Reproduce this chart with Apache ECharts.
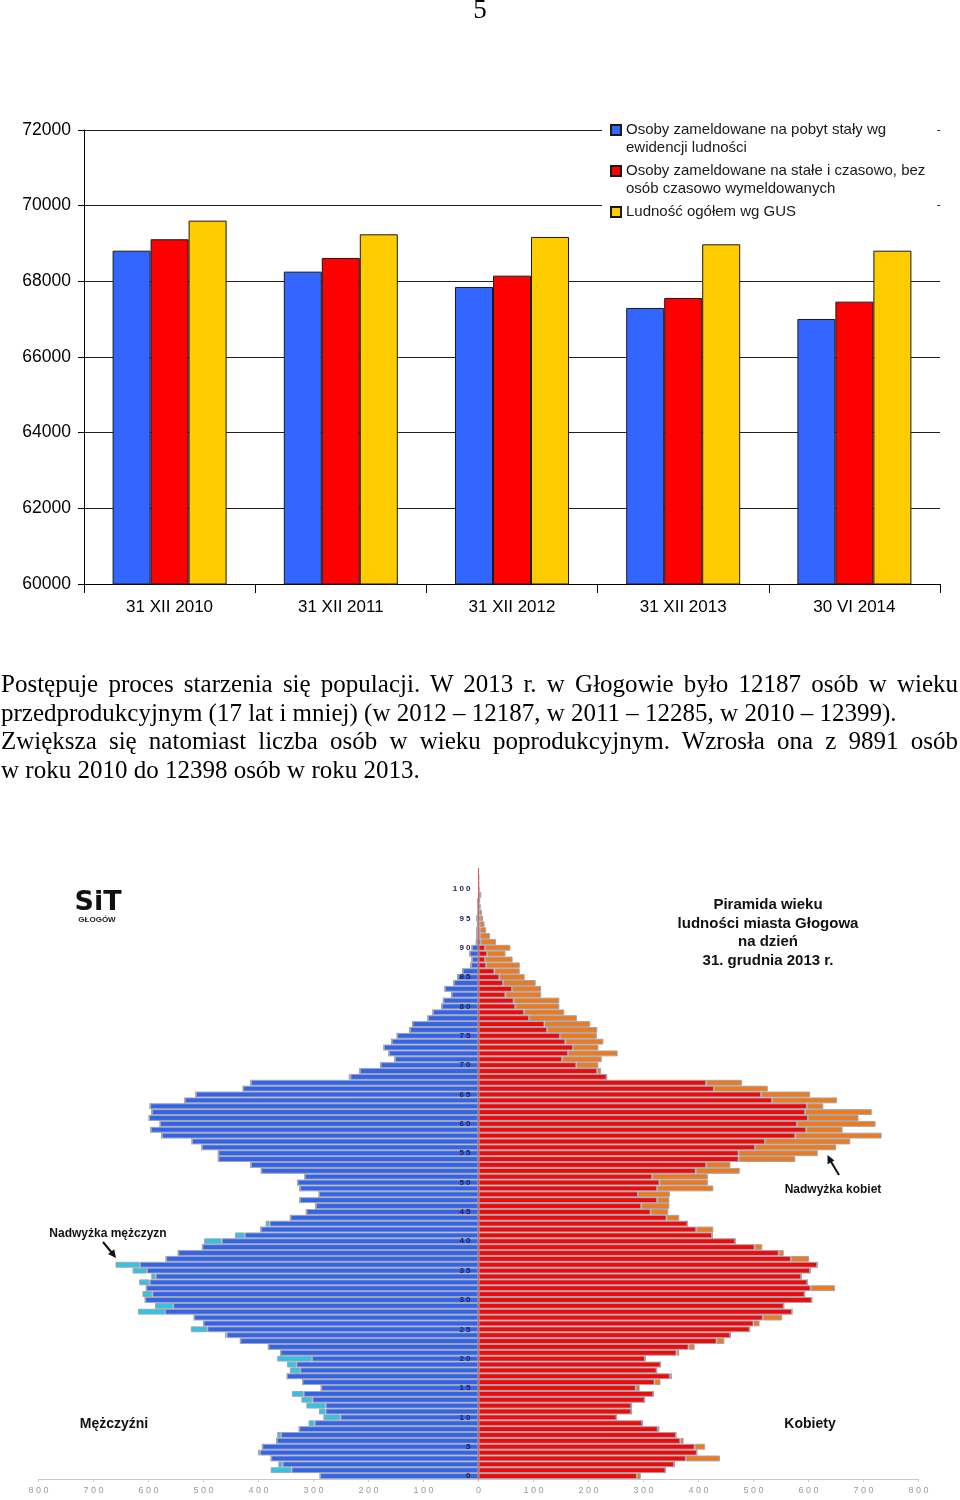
<!DOCTYPE html>
<html>
<head>
<meta charset="utf-8">
<script src="https://cdn.jsdelivr.net/npm/echarts@6/dist/echarts.min.js"></script>
<style>
  html, body { margin:0; padding:0; background:#fff; }
  #wrap { position:relative; width:960px; height:1500px; overflow:hidden; }
  #chart { position:absolute; left:0; top:0; width:960px; height:1500px; }
  .pg { position:absolute; left:0; top:-4px; width:960px; text-align:center; font:27px "Liberation Serif","Times New Roman",serif; line-height:27px; color:#000; z-index:2; }
  .ln { position:absolute; left:1px; width:957px; font:25px "Liberation Serif","Times New Roman",serif; line-height:28.5px; color:#000; z-index:2; }
  .j { text-align:justify; text-align-last:justify; }
</style>
</head>
<body>
<div id="wrap">
  <div id="chart"></div>
  <div class="pg">5</div>
  <div class="ln j" style="top:670px">Postępuje proces starzenia się populacji. W 2013 r. w Głogowie było 12187 osób w wieku</div>
  <div class="ln" style="top:698.5px">przedprodukcyjnym (17 lat i mniej) (w 2012 – 12187, w 2011 – 12285, w 2010 – 12399).</div>
  <div class="ln j" style="top:727px">Zwiększa się natomiast liczba osób w wieku poprodukcyjnym. Wzrosła ona z 9891 osób</div>
  <div class="ln" style="top:755.5px">w roku 2010 do 12398 osób w roku 2013.</div>
</div>
<script>
// ---------- Bar chart data ----------
const dates = ['31 XII 2010', '31 XII 2011', '31 XII 2012', '31 XII 2013', '30 VI 2014'];
const stalyEwidencja = [68810, 68256, 67851, 67296, 67005];
const staleCzasowo   = [69112, 68618, 68150, 67560, 67463];
const ludnoscGUS     = [69604, 69243, 69173, 68979, 68810];
const yTicksBar = [60000, 62000, 64000, 66000, 68000, 70000, 72000];

const N1 = 'Osoby zameldowane na pobyt stały wg ewidencji ludności';
const N2 = 'Osoby zameldowane na stałe i czasowo, bez osób czasowo wymeldowanych';
const N3 = 'Ludność ogółem wg GUS';

// ---------- Pyramid data (ages 0..103) ----------
const men = [
  288, 378, 364, 377, 401, 393, 367, 366, 326, 309,
  282, 290, 313, 322, 339, 286, 320, 348, 343, 348,
  366, 360, 382, 433, 461, 523, 500, 517, 619, 588,
  606, 611, 604, 617, 595, 629, 660, 568, 546, 502,
  499, 443, 396, 387, 342, 313, 296, 325, 290, 325,
  329, 316, 395, 414, 473, 473, 503, 521, 576, 596,
  579, 599, 594, 597, 534, 514, 428, 414, 236, 216,
  178, 152, 163, 172, 158, 148, 125, 120, 92, 83,
  67, 64, 49, 61, 45, 38, 29, 14, 12, 16,
  12, 4, 3, 3, 2, 3, 1, 1, 1, 0,
  0, 0, 0, 0
];
const women = [
  295, 340, 356, 439, 397, 412, 373, 359, 329, 298,
  251, 278, 278, 302, 318, 293, 331, 352, 324, 331,
  303, 365, 393, 447, 458, 493, 511, 552, 570, 555,
  606, 593, 648, 598, 587, 603, 616, 601, 555, 516,
  467, 425, 427, 380, 365, 345, 347, 347, 348, 427,
  417, 417, 475, 458, 576, 617, 650, 676, 733, 662,
  722, 691, 715, 627, 652, 603, 526, 479, 233, 223,
  218, 224, 253, 218, 227, 215, 216, 203, 179, 156,
  147, 147, 114, 114, 104, 84, 75, 75, 62, 49,
  58, 32, 21, 14, 11, 8, 6, 4, 3, 5,
  2, 1, 1, 0
];
const ages = men.map((_, i) => String(i));
const pyrTicks = [-800, -700, -600, -500, -400, -300, -200, -100, 0, 100, 200, 300, 400, 500, 600, 700, 800];

// derived series: common part and surplus
const menBase   = men.map((m, i) => -Math.min(m, women[i]));
const menExtra  = men.map((m, i) => -Math.max(m - women[i], 0));
const womBase   = women.map((w, i) => Math.min(w, men[i]));
const womExtra  = women.map((w, i) => Math.max(w - men[i], 0));

const FONT = '"Liberation Sans", Arial, sans-serif';
const legendText = {};
legendText[N1] = '\nOsoby zameldowane na pobyt stały wg\newidencji ludności';
legendText[N2] = '\nOsoby zameldowane na stałe i czasowo, bez\nosób czasowo wymeldowanych';
legendText[N3] = '\nLudność ogółem wg GUS\n';

const chart = echarts.init(document.getElementById('chart'), null, {renderer: 'canvas'});

const pyrBar = (name, data, color) => ({
  type: 'bar', name, data, stack: 'pyr', xAxisIndex: 1, yAxisIndex: 1,
  barCategoryGap: '0%', barWidth: '100%',
  itemStyle: { color, borderColor: '#a4a4ac', borderWidth: 1 },
  emphasis: { disabled: true }, silent: true
});

const colBar = (name, data, color) => ({
  type: 'bar', name, data, xAxisIndex: 0, yAxisIndex: 0,
  barWidth: 38, barGap: '0%',
  itemStyle: { color, borderColor: '#1a1a1a', borderWidth: 1 },
  emphasis: { disabled: true }
});

const option = {
  animation: false,
  textStyle: { fontFamily: FONT },
  grid: [
    { left: 84, top: 130, width: 856, height: 454 },
    { left: 38.5, top: 868.5, width: 880, height: 610.5 }
  ],
  legend: {
    data: [N1, N2, N3],
    orient: 'vertical',
    left: 602, top: 98,
    padding: [5, 12, 5, 8],
    itemGap: -13,
    itemWidth: 10, itemHeight: 10,
    icon: 'rect',
    backgroundColor: '#fff',
    selectedMode: false,
    formatter: n => legendText[n],
    textStyle: { fontSize: 15, lineHeight: 18, color: '#1a1a1a', fontFamily: FONT }
  },
  xAxis: [
    {
      type: 'category', gridIndex: 0, data: dates,
      axisLine: { lineStyle: { color: '#000', width: 1 } },
      axisTick: { show: true, length: 9, lineStyle: { color: '#000' } },
      axisLabel: { fontSize: 17, color: '#000', margin: 15, fontFamily: FONT }
    },
    {
      type: 'value', gridIndex: 1, min: pyrTicks[0], max: pyrTicks[pyrTicks.length - 1], interval: 100,
      axisLine: { show: true, onZero: false, lineStyle: { color: '#c8c8c8' } },
      axisTick: { show: true, length: 3, lineStyle: { color: '#c8c8c8' } },
      splitLine: { show: false },
      axisLabel: { fontSize: 9, color: '#9a9a9a', margin: 7, fontFamily: FONT,
        formatter: v => String(Math.abs(v)).split('').join(' ') }
    }
  ],
  yAxis: [
    {
      type: 'value', gridIndex: 0, min: yTicksBar[0], max: yTicksBar[yTicksBar.length - 1], interval: 2000,
      axisLine: { show: true, lineStyle: { color: '#000' } },
      axisTick: { show: true, length: 6, lineStyle: { color: '#000' } },
      splitLine: { show: true, lineStyle: { color: '#222', width: 1 } },
      axisLabel: { fontSize: 17.5, color: '#000', margin: 13, fontFamily: FONT, formatter: v => String(v) }
    },
    {
      type: 'category', gridIndex: 1, data: ages, z: 10,
      position: 'left', offset: -440,
      axisLine: { show: true, onZero: false, lineStyle: { color: '#e06060', width: 1 } },
      axisTick: { show: false },
      axisLabel: {
        interval: (idx) => idx % 5 === 0 && idx <= 100,
        fontSize: 8, fontWeight: 'bold', color: '#1c2360', margin: 8, fontFamily: FONT,
        formatter: v => v.split('').join(' ')
      }
    }
  ],
  series: [
    colBar(N1, stalyEwidencja, '#3366FF'),
    colBar(N2, staleCzasowo, '#FF0000'),
    colBar(N3, ludnoscGUS, '#FFCC00'),
    pyrBar('Mężczyźni', menBase, '#3264EB'),
    pyrBar('Nadwyżka mężczyzn', menExtra, '#2EC4E6'),
    pyrBar('Kobiety', womBase, '#EE0A0A'),
    pyrBar('Nadwyżka kobiet', womExtra, '#EE7A1E')
  ],
  graphic: [
    { type: 'text', style: { text: 'SiT', x: 98, y: 903, align: 'center', verticalAlign: 'middle',
        font: '900 27px "DejaVu Sans", "Liberation Sans", sans-serif', fill: '#111' } },
    { type: 'text', style: { text: 'GŁOGÓW', x: 97, y: 920, align: 'center', verticalAlign: 'middle',
        font: 'bold 8px "Liberation Sans", Arial, sans-serif', fill: '#222' } },
    { type: 'text', style: { text: 'Piramida wieku\nludności miasta Głogowa\nna dzień\n31. grudnia 2013 r.',
        x: 768, y: 933, align: 'center', verticalAlign: 'middle', lineHeight: 18.7,
        font: 'bold 15px "Liberation Sans", Arial, sans-serif', fill: '#111' } },
    { type: 'text', style: { text: 'Nadwyżka kobiet', x: 833, y: 1190, align: 'center', verticalAlign: 'middle',
        font: 'bold 12px "Liberation Sans", Arial, sans-serif', fill: '#111' } },
    { type: 'line', shape: { x1: 839, y1: 1175, x2: 830, y2: 1160 }, style: { stroke: '#111', lineWidth: 2 } },
    { type: 'polygon', shape: { points: [[827.5, 1155], [827.6, 1164.2], [834.4, 1160.4]] }, style: { fill: '#111' } },
    { type: 'text', style: { text: 'Nadwyżka mężczyzn', x: 108, y: 1234, align: 'center', verticalAlign: 'middle',
        font: 'bold 12px "Liberation Sans", Arial, sans-serif', fill: '#111' } },
    { type: 'line', shape: { x1: 103, y1: 1242, x2: 112, y2: 1253 }, style: { stroke: '#111', lineWidth: 2 } },
    { type: 'polygon', shape: { points: [[116, 1258], [114.2, 1249.2], [108, 1253.9]] }, style: { fill: '#111' } },
    { type: 'text', style: { text: 'Mężczyźni', x: 114, y: 1424, align: 'center', verticalAlign: 'middle',
        font: 'bold 14px "Liberation Sans", Arial, sans-serif', fill: '#111' } },
    { type: 'text', style: { text: 'Kobiety', x: 810, y: 1424, align: 'center', verticalAlign: 'middle',
        font: 'bold 14px "Liberation Sans", Arial, sans-serif', fill: '#111' } }
  ]
};
chart.setOption(option);
</script>
</body>
</html>
